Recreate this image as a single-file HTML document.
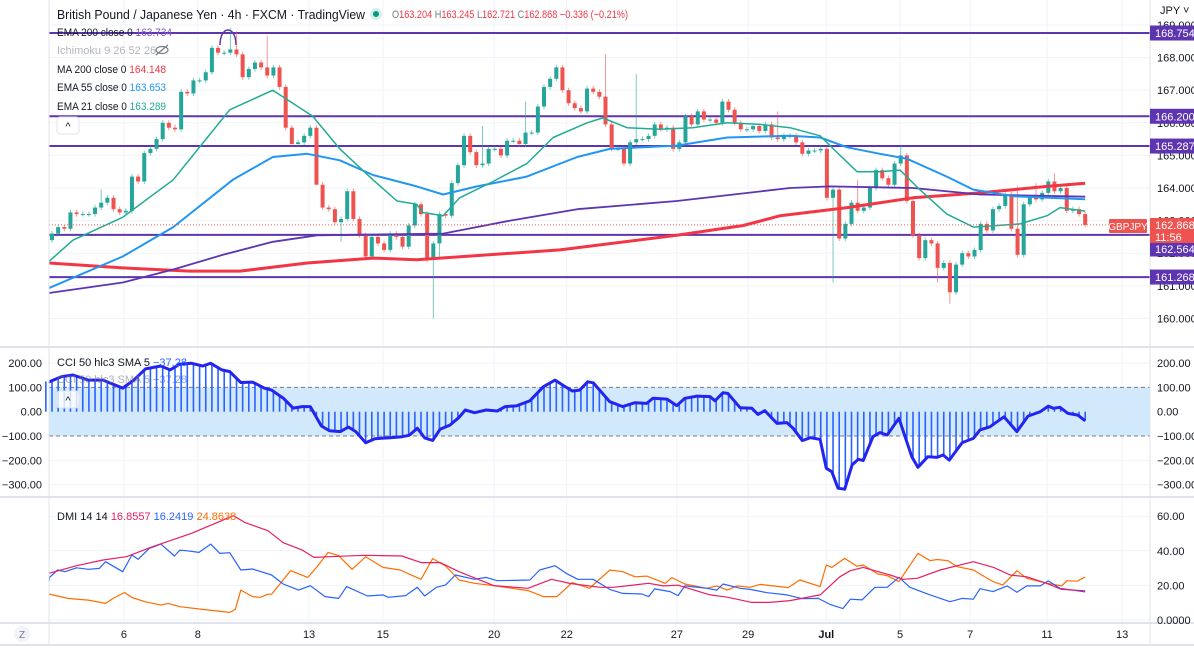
<!DOCTYPE html>
<html><head><meta charset="utf-8"><style>
html,body{margin:0;padding:0;background:#fff;}
svg{display:block;font-family:"Liberation Sans",sans-serif;}
</style></head><body>
<svg id="chart" width="1194" height="652" viewBox="0 0 1194 652" xmlns="http://www.w3.org/2000/svg">
<rect x="0" y="0" width="1194" height="652" fill="#ffffff"/>
<g id="grid"></g>
<g id="main"></g>
<g id="cci"></g>
<g id="dmi"></g>
<g id="axes"></g>
<g id="legend">
  <text x="57" y="19" font-size="13" fill="#131722" textLength="308" lengthAdjust="spacingAndGlyphs">British Pound / Japanese Yen · 4h · FXCM · TradingView</text>
  <circle cx="376" cy="14" r="6" fill="#d6f0eb"/>
  <circle cx="376" cy="14" r="3" fill="#089981"/>
  <text x="392" y="18" font-size="11" fill="#f23645" textLength="236" lengthAdjust="spacingAndGlyphs"><tspan fill="#787b86">O</tspan>163.204 <tspan fill="#787b86">H</tspan>163.245 <tspan fill="#787b86">L</tspan>162.721 <tspan fill="#787b86">C</tspan>162.868 −0.336 (−0.21%)</text>
  <text x="57" y="36" font-size="11" fill="#131722" textLength="115" lengthAdjust="spacingAndGlyphs">EMA 200 close 0 <tspan fill="#7e57c2">163.734</tspan></text>
  <text x="57" y="54" font-size="11" fill="#b2b5be">Ichimoku 9 26 52 26</text>
  <g stroke="#787b86" fill="none" stroke-width="1.2"><ellipse cx="162" cy="50" rx="6" ry="3.5"/><line x1="156" y1="55" x2="168" y2="45"/></g>
  <text x="57" y="73" font-size="11" fill="#131722" textLength="109" lengthAdjust="spacingAndGlyphs">MA 200 close 0 <tspan fill="#f23645">164.148</tspan></text>
  <text x="57" y="91" font-size="11" fill="#131722" textLength="109" lengthAdjust="spacingAndGlyphs">EMA 55 close 0 <tspan fill="#2196f3">163.653</tspan></text>
  <text x="57" y="110" font-size="11" fill="#131722" textLength="109" lengthAdjust="spacingAndGlyphs">EMA 21 close 0 <tspan fill="#22ab94">163.289</tspan></text>
  <rect x="57" y="117" width="22" height="17" rx="3" fill="#fff" stroke="#e0e3eb"/>
  <text x="68" y="130" font-size="11" text-anchor="middle" fill="#131722">^</text>
  <text x="57" y="366" font-size="11" fill="#131722">CCI 50 hlc3 SMA 5 <tspan fill="#2962ff">−37.28</tspan></text>
  <text x="57" y="383" font-size="11" fill="#787b86" opacity="0.6">CCI 50 hlc3 SMA 5 <tspan fill="#2962ff">−37.28</tspan></text>
  <rect x="57" y="391" width="22" height="17" rx="3" fill="#fff" fill-opacity="0.8" stroke="#e0e3eb"/>
  <text x="68" y="404" font-size="11" text-anchor="middle" fill="#131722">^</text>
  <text x="57" y="520" font-size="11" fill="#131722">DMI 14 14 <tspan fill="#e91e63">16.8557</tspan> <tspan fill="#2962ff">16.2419</tspan> <tspan fill="#ff6d00">24.8638</tspan></text>
  <text x="1160" y="14" font-size="11" fill="#131722">JPY ˅</text>
  <circle cx="22" cy="634" r="8" fill="#f0f3fa"/>
  <text x="22" y="638" font-size="10" text-anchor="middle" fill="#787b86">Z</text>
</g>
<script>
// ---- data ----
const closes = [162.6,162.8,162.75,163.25,163.2,163.2,163.2,163.4,163.55,163.7,163.35,163.25,163.3,164.35,164.2,165.07,165.2,165.5,166.0,165.85,165.8,166.95,166.9,167.3,167.3,167.55,168.3,168.15,168.15,168.25,168.1,167.4,167.65,167.85,167.7,167.45,167.7,167.1,165.85,165.35,165.4,165.6,165.85,164.1,163.4,163.35,162.95,163.05,163.9,163.05,162.55,161.9,162.5,162.3,162.1,162.6,162.5,162.2,162.85,163.5,
163.2,161.8,162.3,163.2,163.15,164.15,164.7,165.6,165.1,164.7,164.75,165.2,165.2,165.0,165.45,165.45,165.35,165.7,165.7,166.5,167.1,167.35,167.7,167.0,166.6,166.45,166.35,167.05,166.95,166.8,165.95,165.2,165.2,164.75,165.4,165.5,165.5,165.6,165.95,165.8,165.85,165.2,165.4,166.2,165.95,166.35,166.1,166.1,166.0,166.65,166.4,166.0,165.8,165.8,165.9,165.75,165.95,165.55,165.5,165.6,
165.6,165.4,165.05,165.15,165.15,165.2,163.7,163.95,162.45,162.9,163.55,163.3,163.4,164.0,164.55,164.3,164.1,164.75,165.0,163.6,162.55,161.85,162.4,162.3,161.55,161.7,160.8,161.65,162.0,161.9,162.1,162.9,162.7,163.35,163.45,163.8,162.75,161.95,163.5,163.7,163.65,163.85,164.2,163.9,164.0,163.3,163.35,163.2,162.868];
const firstOpen = 162.4;
const wickIdx = [8,20,29,30,35,43,47,62,63,70,77,90,95,118,127,131,138,144,146,157,160,163];
const wickPrice = [163.95,165.95,168.9,168.8,168.65,165.35,162.35,160.0,161.85,165.9,166.65,168.1,167.5,166.35,161.1,164.25,165.3,161.1,160.45,164.05,164.15,164.45];
const ema21Idx = [-1,3.4,11.5,19.7,28.9,35.9,42.4,46.8,52.2,56.1,59.3,60.3,63.6,66.3,71.7,77.2,81.5,87,89.6,93.5,98.9,104.2,109.8,115.1,120,124.9,127.6,130.9,134.6,137.9,141.1,145.5,149.8,153.7,157.4,161.8,163.9,168];
const ema21Val = [161.75,162.4,163.1,164.25,166.4,167.0,166.2,165.2,164.25,163.6,163.5,163.25,163.15,163.7,164.2,164.75,165.55,166.0,166.15,165.85,165.8,165.85,166.0,165.95,165.85,165.6,165.1,164.5,164.5,164.55,163.95,163.2,162.8,162.85,162.9,163.15,163.4,163.29];
const ema55Idx = [-1,11.5,19.7,29.4,35.9,41.5,46.8,52.2,59.3,63.6,69.1,77.2,85.4,90.7,101.6,109.8,120,124.9,129.3,134.6,139,145.5,149.8,156.3,168];
const ema55Val = [160.93,161.9,162.8,164.25,164.95,165.05,164.85,164.4,164.05,163.8,164.05,164.35,164.95,165.2,165.3,165.55,165.6,165.55,165.25,165.05,164.9,164.35,163.95,163.75,163.653];
const ema200Idx = [-1,11.5,19.7,27.8,35.9,43.1,63.6,74.5,85.4,101.6,120,126.5,140,150.9,168];
const ema200Val = [160.78,161.1,161.5,161.95,162.35,162.55,162.6,163.0,163.35,163.6,164.0,164.05,164.0,163.8,163.734];
const ma200Idx = [-1,11.5,22.4,30.6,41.5,52.2,59.3,82.6,101.6,112.4,118.4,129.3,140,150.9,161.8,168];
const ma200Val = [161.7,161.55,161.45,161.45,161.7,161.85,161.8,162.1,162.55,162.85,163.15,163.4,163.7,163.85,164.05,164.148];
const levels = [168.754,166.2,165.287,162.564,161.268];
const lastPrice = 162.868;
const priceTicks = [169,168,167,166,165,164,163,162,161,160];
const cciIdx = [-1.2,-0.4,1.5,3.4,5.9,8.3,11.5,13.3,15.2,17.7,19.2,20.8,22.7,24.5,25.8,27.6,28.9,30.7,32.6,34.5,35.7,37.6,39.2,40.7,42,43.8,45.1,46.9,48.2,49.4,51,52.5,55,56.9,58.1,59.4,60.6,61.9,63.1,64.7,66.2,67.2,68.7,70.6,72.4,73.7,75.5,77.7,79.9,81.8,83,84.6,85.8,87.1,88,90.7,92.8,94.8,96.7,97.7,100,101.6,102.9,104.9,107,107.8,109.1,109.9,111.9,113.8,114.8,115.9,117.9,119.5,120.5,122,123.3,124.9,125.9,126.8,127.8,128.9,130.1,131.1,131.9,133.5,134.6,135.8,137.7,139.8,140.8,142.4,143.9,144.9,145.9,148,149.8,150.9,152.5,154.8,156.9,158.7,160.7,162,162.8,163.9,165.2,166.8,168];
const cciVal = [125,123,144,151,130,130,97,130,176,188,172,196,199,188,199,172,165,120,122,97,89,56,15,21,21,-59,-78,-82,-63,-82,-128,-111,-107,-103,-97,-68,-108,-118,-72,-55,-23,7,-4,7,3,21,24,45,103,130,110,85,89,123,119,41,21,37,34,55,52,25,55,64,62,45,78,75,16,14,-11,4,-48,-45,-68,-119,-107,-114,-233,-247,-315,-319,-219,-196,-201,-103,-86,-96,-27,-185,-229,-185,-188,-178,-199,-127,-110,-75,-62,-21,-82,-18,0,23,14,18,-7,-14,-37.28];
const cciTicks = [200,100,0,-100,-200,-300];
const adxIdx = [-1.2,4,8.3,12.1,16.4,22.7,29.5,31.4,35.1,37.6,40.7,42.6,45.1,50.7,56.9,60,63.1,66.2,71.8,77.4,81.2,84.3,89.1,91.3,94.5,97,99.4,101.8,107,109.8,113.8,116.7,120,124.9,128.1,129.8,131.9,136.3,138.4,140.7,144.4,149.8,153.1,155.8,158.5,161.7,164.2,168];
const adxVal = [27.0,31.4,34.7,36.6,42.4,50.1,60.3,56.3,51.6,44.7,40.4,36.2,36.6,37.4,37,33.2,33.2,27.9,19.9,18.3,23.5,21.1,18.9,18.9,20.2,21.2,19.7,20.1,14.5,13.2,10.2,10.2,11.2,14.5,25,28.5,30.4,26,23.5,24.1,28.9,33.7,30.4,26,25,21.2,17.7,16.8557];
const plusIdx = [-1.2,-0.4,0.9,2.1,4,5.9,7.7,8.7,11.5,13,14,15.8,17.7,19.9,20.8,22,23.9,25.8,27.3,28.9,30.7,32.6,35.7,37.6,40.1,42,44.4,46.6,47.9,51.3,53.8,54.7,57.5,59.4,60.6,62.5,64,65.6,68.7,70.6,72.4,77.7,79.3,81.8,83.6,85.5,88,90.7,92.8,95.9,97,98,100.5,101.8,102.9,106.5,108.1,109.1,111.9,113.5,116.3,119.5,122,124.6,126.5,128.6,129.8,131.7,133.8,135.8,137.7,139.5,142.8,146,148,149.8,150.9,153,155.3,156.9,158.5,160.7,162,163.9,168];
const plusVal = [22,24.6,28.9,27.9,30.2,29.3,29.8,33.7,27.9,37.6,35.1,41.4,43.9,37,40.4,40,39.1,43.9,38.5,38.9,28.9,29.5,26,20.8,17.3,19.8,13.5,12.5,19.3,13.9,14.5,13.1,14.1,18.9,13.9,18.9,20.3,26,23.5,24.6,22.7,23.1,28.9,31.4,27,23.5,23.5,17.7,15.4,15,13.5,18,16.4,14.1,19.7,18.3,17.3,20.8,18.3,17.7,15.8,14.5,12.3,12.5,9,6.6,12,11.6,18.9,18.9,24.7,18.9,14.5,10.6,12.5,12,18.1,16.4,19.7,16,19.7,19.7,22.6,18.3,16.2419];
const minusIdx = [-1.2,2.7,5.9,8.7,9.9,11.8,13,15.2,17.7,18.9,20.8,24.5,28.9,29.8,30.7,32.6,33.9,35.1,35.7,38.8,41.6,43.2,44.9,46.6,48.8,51,53.8,56.6,60,61.9,64,66.2,68.7,71.8,77.4,79.9,82.1,84.6,87.4,90.7,92.8,94.8,96.7,99.7,100.8,102.9,106.5,108.1,109.8,111.4,113.5,115.1,117.2,119.7,121.6,124.9,125.9,126.8,128.9,130.9,131.9,134.3,135.8,137.7,140.8,142.8,143.9,145.7,147.2,149.8,153,154.6,156.9,158.5,161.8,164.2,165,166.7,168];
const minusVal = [15,12.4,11.5,9.6,12.4,15.9,13,10.5,8.6,9.6,7.7,6.1,4.4,6.1,17.3,13.5,13.1,14.9,14.9,28.5,24.6,31.2,39.1,37.2,29.3,36.6,30.4,28.9,23.5,35.5,31.2,23.1,21.2,19.9,17,13.5,13.5,21.6,18.3,28.9,27.9,25,25.4,21.2,24.5,20.8,18.3,19.7,17.3,19.7,18.9,20.6,19.7,18.7,23.1,19.3,31.8,30.4,35.6,31.1,31.8,26.6,25.6,22.2,38.5,34.3,35,34.3,30.8,28.9,22.2,20.2,28.5,24.1,21.2,19.7,22.7,22.4,24.8638];
const dmiTicks = [60,40,20,0];
const dateLabels = ["6","8","13","15","20","22","27","29","Jul","5","7","11","13"];
const dateIdx = [11.7,23.7,41.8,53.8,71.9,83.7,101.6,113.2,125.9,137.9,149.3,161.8,174];

// ---- scales ----
const L = 49, R = 1150;
const xOf = i => 52 + i * 6.15;
const yP = p => 25 + (169 - p) * 32.6;
const yC = v => 411.7 - v * 0.243;
const yD = v => 620 - v * 1.73;
const NS = "http://www.w3.org/2000/svg";
function mk(tag, attrs, parent) {
  const e = document.createElementNS(NS, tag);
  for (const k in attrs) e.setAttribute(k, attrs[k]);
  parent.appendChild(e);
  return e;
}
function interp(xs, vs, t) {
  if (t <= xs[0]) return vs[0];
  for (let k = 1; k < xs.length; k++) if (t <= xs[k]) { const f = (t - xs[k-1]) / (xs[k] - xs[k-1]); return vs[k-1] + f * (vs[k] - vs[k-1]); }
  return vs[vs.length - 1];
}
function pts(xs, vs, yf) { return xs.map((t, k) => Math.max(L, xOf(t)).toFixed(1) + "," + yf(vs[k]).toFixed(1)).join(" "); }

const grid = document.getElementById("grid"), main = document.getElementById("main"),
      cci = document.getElementById("cci"), dmi = document.getElementById("dmi"), axes = document.getElementById("axes");

dateIdx.forEach((d, k) => {
  const l = mk("line", {x1: xOf(d), x2: xOf(d), y1: 0, y2: 623, stroke: "#f0f3fa", "stroke-width": 1}, grid);
  
  
});
priceTicks.forEach(p => {
  const l = mk("line", {x1: L, x2: R, y1: yP(p), y2: yP(p), stroke: "#f0f3fa"}, grid);
  
  
});
cciTicks.forEach(v => {
  const l = mk("line", {x1: L, x2: R, y1: yC(v), y2: yC(v), stroke: "#f0f3fa"}, grid);
  
  
});
dmiTicks.forEach(v => {
  const l = mk("line", {x1: L, x2: R, y1: yD(v), y2: yD(v), stroke: "#f0f3fa"}, grid);
  
  
});

function line(xs, vs, yf, color, w, name, parent) {
  const p = mk("polyline", {points: pts(xs, vs, yf), fill: "none", stroke: color, "stroke-width": w, "stroke-linejoin": "round"}, parent);
  
  
}

levels.forEach(lv => {
  const l = mk("line", {x1: L, x2: R, y1: yP(lv), y2: yP(lv), stroke: "#5e35b1", "stroke-width": 2}, main);
  
  
});
const arc = mk("path", {d: "M220 45 C220 25 236 25 236 45", fill: "none", stroke: "#5e35b1", "stroke-width": 1.5}, main);



closes.forEach((c, i) => {
  const o = i === 0 ? firstOpen : closes[i-1];
  let hi = Math.max(o, c) + 0.08, lo = Math.min(o, c) - 0.08;
  const w = wickIdx.indexOf(i);
  if (w >= 0) { if (wickPrice[w] > Math.max(o, c)) hi = wickPrice[w]; else lo = wickPrice[w]; }
  const col = c >= o ? "#26a69a" : "#ef5350";
  const x = xOf(i);
  const g = mk("g", {}, main);
  
  
  mk("line", {x1: x, x2: x, y1: yP(hi), y2: yP(lo), stroke: col, "stroke-width": 1, opacity: 0.6}, g);
  const top = yP(Math.max(o, c)), h = Math.max(1, yP(Math.min(o, c)) - top);
  mk("rect", {x: x - 2, y: top, width: 4, height: h, fill: col}, g);
});

line(ma200Idx, ma200Val, yP, "#f23645", 3, "ma200-line", main);
line(ema200Idx, ema200Val, yP, "#5e35b1", 1.8, "ema200-line", main);
line(ema55Idx, ema55Val, yP, "#2196f3", 2, "ema55-line", main);
line(ema21Idx, ema21Val, yP, "#22ab94", 1.5, "ema21-line", main);

const dl = mk("line", {x1: L, x2: 1110, y1: yP(lastPrice), y2: yP(lastPrice), stroke: "#ef5350", "stroke-width": 1, "stroke-dasharray": "1,2"}, main);



const band = mk("rect", {x: L, y: yC(100), width: R - L, height: yC(-100) - yC(100), fill: "#d2e8fb"}, cci);


[100, -100].forEach(v => {
  const l = mk("line", {x1: L, x2: R, y1: yC(v), y2: yC(v), stroke: "#787b86", "stroke-dasharray": "4,3"}, cci);
  
  
});
for (let i = -1; i <= 168; i++) {
  const v = interp(cciIdx, cciVal, i);
  const b = mk("line", {x1: xOf(i), x2: xOf(i), y1: yC(0), y2: yC(v), stroke: "#2962ff", "stroke-width": 1.6}, cci);
  
  
}
line(cciIdx, cciVal, yC, "#2424f0", 3, "cci-line", cci);

line(minusIdx, minusVal, yD, "#ff6d00", 1.2, "dmi-orange-line", dmi);
line(plusIdx, plusVal, yD, "#2962ff", 1.2, "dmi-blue-line", dmi);
line(adxIdx, adxVal, yD, "#e91e63", 1.2, "dmi-pink-line", dmi);

[[0, 347, 1194, 347], [0, 497, 1194, 497], [0, 623, 1194, 623], [0, 645, 1194, 645]].forEach(s => {
  const l = mk("line", {x1: s[0], y1: s[1], x2: s[2], y2: s[3], stroke: "#e0e3eb", "stroke-width": 2}, axes);
  
  
});
[[L, 0, L, 645], [R, 0, R, 645]].forEach(s => {
  const l = mk("line", {x1: s[0], y1: s[1], x2: s[2], y2: s[3], stroke: "#e0e3eb", "stroke-width": 1}, axes);
  
  
});
function txt(x, y, s, anchor, color, name, parent, size) {
  const t = mk("text", {x: x, y: y, "font-size": size || 11, "text-anchor": anchor, fill: color}, parent);
  t.textContent = s;
  
  
  return t;
}
priceTicks.forEach(p => txt(1157, yP(p) + 4, p.toFixed(3), "start", "#131722", "price-tick-label", axes));
cciTicks.forEach(v => {
  const s = v.toFixed(2).replace("-", "−");
  txt(1157, yC(v) + 4, s, "start", "#131722", "cci-tick-label-right", axes);
  txt(42, yC(v) + 4, s, "end", "#131722", "cci-tick-label-left", axes);
});
dmiTicks.forEach(v => txt(1157, yD(v) + 4, v === 0 ? "0.0000" : v.toFixed(2), "start", "#131722", "dmi-tick-label", axes));
dateLabels.forEach((d, k) => {
  const t = txt(xOf(dateIdx[k]), 638, d, "middle", "#131722", "date-tick-label", axes);
  if (d === "Jul") t.setAttribute("font-weight", "bold");
});

levels.forEach(lv => {
  let cy = yP(lv);
  if (Math.abs(lv - 162.564) < 0.001) cy = 249;
  const g = mk("g", {}, axes);
  
  
  mk("rect", {x: R, y: cy - 7.5, width: 44, height: 15, fill: "#5e35b1"}, g);
  const t = mk("text", {x: 1155, y: cy + 4, "font-size": 11, fill: "#fff"}, g);
  t.textContent = lv.toFixed(3);
});
const cur = mk("g", {}, axes);


mk("rect", {x: R, y: 218, width: 44, height: 25, fill: "#ef5350"}, cur);
const ct = mk("text", {x: 1155, y: 229, "font-size": 11, fill: "#fff"}, cur); ct.textContent = lastPrice.toFixed(3);
const cd = mk("text", {x: 1155, y: 241, "font-size": 11, fill: "#fff"}, cur); cd.textContent = "11:56";
const sym = mk("g", {}, axes);


mk("rect", {x: 1109, y: 219, width: 38, height: 14, rx: 1, fill: "#ef5350"}, sym);
const st = mk("text", {x: 1128, y: 230, "font-size": 10, fill: "#fff", "text-anchor": "middle"}, sym); st.textContent = "GBPJPY";
</script>
</svg>
</body></html>
